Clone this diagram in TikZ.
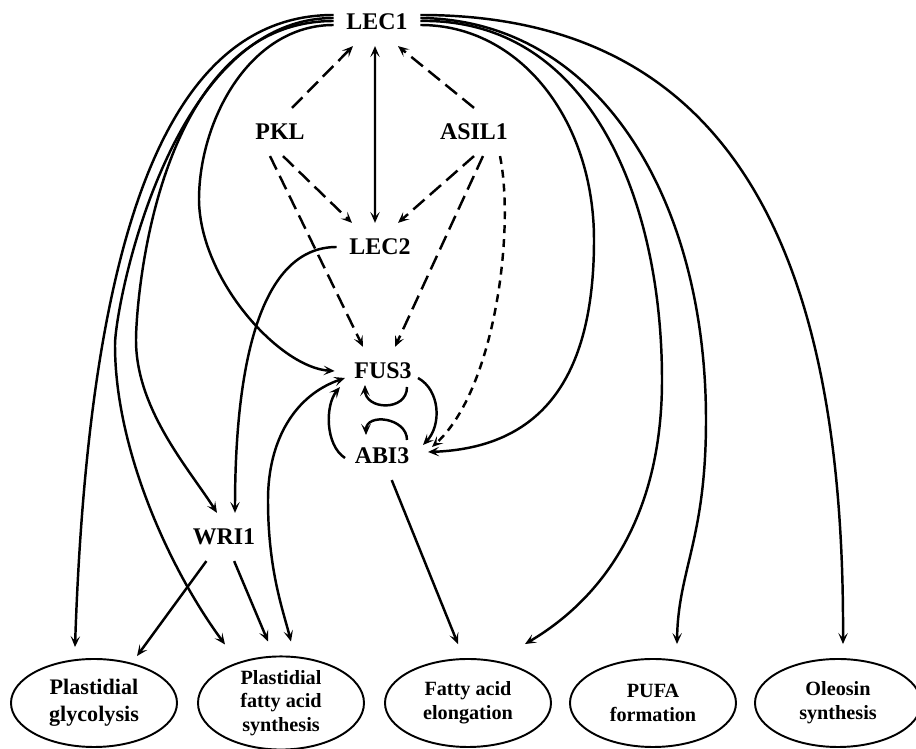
\documentclass[tikz,border=0pt]{standalone}
\usepackage{fontspec}
\setmainfont{Liberation Serif}
\usepackage{tikz}
\usetikzlibrary{positioning, arrows.meta, shapes.geometric, calc}

\tikzset{
    gene/.style={font=\fontsize{13.6}{16}\selectfont\bfseries, inner xsep=2.5mm, inner ysep=0pt, minimum height=0.95cm},
    process/.style={ellipse, draw, line width=1.1pt, minimum width=3.32cm, minimum height=1.76cm, inner sep=0pt, align=center, font=\fontsize{11.5}{13.5}\selectfont\bfseries},
    link/.style={->, line width=1.4pt},
    twolink/.style={<->, line width=1.4pt},
    dlink/.style={link, dash pattern=on 8.5pt off 4pt},
    sdlink/.style={link, dash pattern=on 4.5pt off 3.4pt},
}

\begin{document}
\begin{tikzpicture}[>={Stealth[length=2.2mm, width=1.9mm, inset=1mm]}]
    \useasboundingbox (0,0) rectangle (18.32,14.98);

    % === REGULATEURS ===
    \node[gene] (lec1) at (7.54, 14.54) {LEC1};
    \node[gene] (pkl) at (5.60, 12.34) {PKL};
    \node[gene] (asil1) at (9.48, 12.34) {ASIL1};
    \node[gene] (lec2) at (7.60, 10.04) {LEC2};
    \node[gene] (fus3) at (7.66, 7.56) {FUS3};
    \node[gene] (abi3) at (7.64, 5.86) {ABI3};
    \node[gene] (wri1) at (4.48, 4.24) {WRI1};

    % === PROCESSUS ===
    \node[process, font=\fontsize{12.6}{15.3}\selectfont\bfseries] (gly) at (1.88, 0.92) {Plastidial\\glycolysis};
    \node[process] (pfas) at (5.62, 0.92) {Plastidial\\fatty acid\\synthesis};
    \node[process] (fae) at (9.36, 0.92) {Fatty acid\\elongation};
    \node[process] (pufa) at (13.06, 0.92) {PUFA\\formation};
    \node[process] (oleo) at (16.76, 0.92) {Oleosin\\synthesis};

    % Repression en tirets
    \draw[dlink] ([xshift=0.24cm]pkl.north) -- ([xshift=-0.48cm]lec1.south);
    \draw[dlink] (asil1.north) -- ([xshift=0.42cm]lec1.south);
    \draw[dlink] ([xshift=0.06cm]pkl.south) -- ([xshift=-0.56cm]lec2.north);
    \draw[dlink] (asil1.south) -- ([xshift=0.36cm]lec2.north);
    \draw[dlink] ([xshift=-0.2cm]pkl.south) -- ([xshift=-0.4cm]fus3.north);
    \draw[dlink] ([xshift=0.18cm]asil1.south) -- ([xshift=0.24cm]fus3.north);
    \draw[sdlink] ([xshift=0.52cm]asil1.south) .. controls (10.3, 10.38) and (9.9, 7.18) .. ([shift={(1.0,0.18)}]abi3.center);

    % LEC1 <-> LEC2
    \draw[twolink] ([xshift=-0.1cm]lec2.north) -- ([xshift=-0.04cm]lec1.south);

    % Arcs a gauche de LEC1
    \draw[link] ([yshift=0.14cm]lec1.west) .. controls (3.6, 14.68) and (1.8, 10.98) .. ([shift={(-0.38,0.22)}]gly.north);
    \draw[link] ([yshift=0.08cm]lec1.west) .. controls (3.4, 14.62) and (2.3, 8.86) .. (2.3, 8.08)
        .. controls (2.3, 5.98) and (3.4, 3.58) .. ([shift={(-1.12,0.22)}]pfas.north);
    \draw[link] ([yshift=0.02cm]lec1.west) .. controls (3.1, 14.56) and (2.72, 8.9) .. (2.72, 8.18)
        .. controls (2.72, 6.78) and (3.8, 5.58) .. ([xshift=-0.14cm]wri1.north);
    \draw[link] ([yshift=-0.06cm]lec1.west) .. controls (5.0, 14.48) and (3.98, 12.58) .. (3.98, 10.98)
        .. controls (4.0, 9.38) and (5.6, 7.62) .. ([xshift=-0.14cm]fus3.west);

    % Arcs a droite de LEC1
    \draw[link] ([yshift=-0.06cm]lec1.east) .. controls (10.4, 14.48) and (11.88, 12.58) .. (11.88, 10.18)
        .. controls (11.88, 7.38) and (10.8, 6.02) .. ([shift={(0.12,0.08)}]abi3.east);
    \draw[link] ([yshift=0.02cm]lec1.east) .. controls (11.8, 14.62) and (13.24, 10.98) .. (13.24, 7.38)
        .. controls (13.24, 4.58) and (12.0, 2.98) .. ([shift={(1.14,0.28)}]fae.north);
    \draw[link] ([yshift=0.08cm]lec1.east) .. controls (12.0, 14.58) and (14.12, 10.98) .. (14.12, 6.58)
        .. controls (14.12, 4.18) and (13.56, 3.58) .. ([shift={(0.48,0.28)}]pufa.north);
    \draw[link] ([yshift=0.14cm]lec1.east) .. controls (14.6, 14.68) and (16.9, 9.98) .. ([shift={(0.1,0.28)}]oleo.north);

    % LEC2 vers WRI1
    \draw[link] (lec2.west) .. controls (5.3, 10.04) and (4.7, 7.98) .. ([xshift=0.22cm]wri1.north);

    % Boucle FUS3 / ABI3
    \draw[link] ([shift={(0.7,-0.14)}]fus3.center) .. controls (8.8, 7.18) and (8.84, 6.48) .. ([shift={(0.82,0.22)}]abi3.center);
    \draw[link] ([shift={(-0.74,-0.04)}]abi3.center) .. controls (6.5, 6.08) and (6.5, 6.88) .. ([shift={(-0.86,-0.32)}]fus3.center);
    \draw[link] ([shift={(0.48,-0.32)}]fus3.center) .. controls +(0,-0.5) and +(0,-0.5) .. ([shift={(-0.36,-0.28)}]fus3.center);
    \draw[link] ([shift={(0.5,0.32)}]abi3.center) .. controls +(0,0.45) and +(0,0.45) .. ([shift={(-0.32,0.42)}]abi3.center);

    % FUS3 <-> synthese plastidiale
    \draw[twolink] ([shift={(-0.76,-0.14)}]fus3.center) .. controls (5.9, 7.08) and (5.36, 6.18) .. (5.36, 4.98)
        .. controls (5.36, 3.58) and (5.66, 2.78) .. ([shift={(0.2,0.28)}]pfas.north);

    % Cibles directes
    \draw[link] (wri1) -- ([shift={(0.86,0.04)}]gly.north);
    \draw[link] (wri1) -- ([shift={(-0.26,0.28)}]pfas.north);
    \draw[link] (abi3) -- ([shift={(-0.2,0.28)}]fae.north);

\end{tikzpicture}
\end{document}
